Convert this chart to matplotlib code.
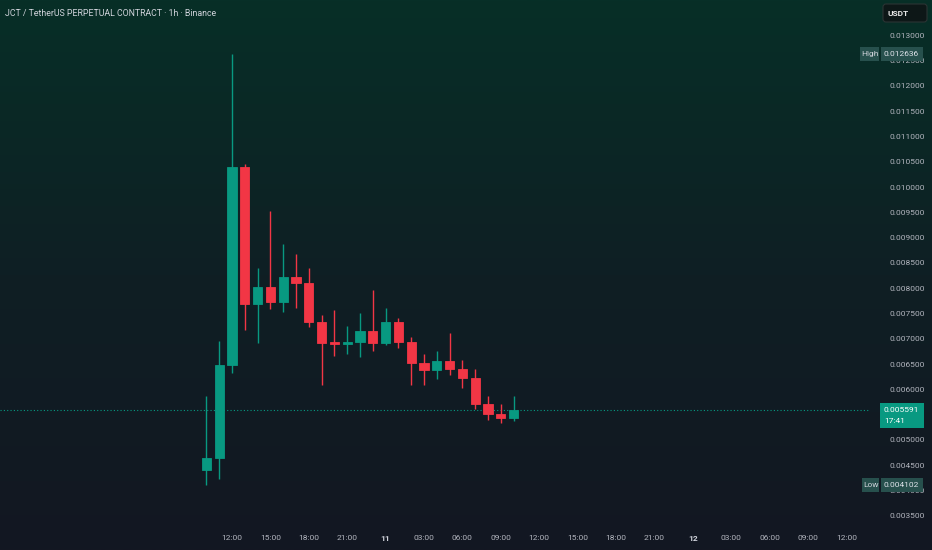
import numpy as np
import matplotlib
matplotlib.use("Agg")
import matplotlib.pyplot as plt
from matplotlib.patches import Rectangle, FancyBboxPatch
from matplotlib.colors import LinearSegmentedColormap

# ---------------- data ----------------
title = "JCT / TetherUS PERPETUAL CONTRACT · 1h · Binance"
hours = list(range(10, 35))  # hours since day-10 00:00 (10:00 .. next day 10:00)
opens = [0.004413, 0.004644, 0.006482, 0.010395, 0.007688, 0.008018, 0.007733, 0.008221,
         0.008109, 0.007338, 0.006917, 0.006907, 0.006937, 0.007160, 0.006911, 0.007332,
         0.006931, 0.006528, 0.006389, 0.006561, 0.006403, 0.006231, 0.005717, 0.005508,
         0.005429]
highs = [0.005870, 0.006957, 0.012636, 0.010455, 0.008399, 0.009520, 0.008874, 0.008670,
         0.008409, 0.007470, 0.007569, 0.007253, 0.007510, 0.007964, 0.007609, 0.007411,
         0.007042, 0.006700, 0.006765, 0.007115, 0.006581, 0.006403, 0.005870, 0.005711,
         0.005870]
lows = [0.004102, 0.004235, 0.006318, 0.007174, 0.006923, 0.007595, 0.007536, 0.007615,
        0.007239, 0.006093, 0.006666, 0.006706, 0.006646, 0.006759, 0.006877, 0.006824,
        0.006093, 0.006093, 0.006211, 0.006290, 0.006034, 0.005613, 0.005401, 0.005330,
        0.005370]
closes = [0.004644, 0.006482, 0.010395, 0.007688, 0.008018, 0.007733, 0.008221, 0.008109,
          0.007338, 0.006917, 0.006907, 0.006937, 0.007160, 0.006911, 0.007332, 0.006931,
          0.006528, 0.006389, 0.006561, 0.006403, 0.006231, 0.005717, 0.005508, 0.005429,
          0.005591]
x_tick_pos = [12, 15, 18, 21, 24, 27, 30, 33, 36, 39, 42, 45, 48, 51, 54, 57, 60]
x_tick_labels = ["12:00", "15:00", "18:00", "21:00", "11", "03:00", "06:00", "09:00",
                 "12:00", "15:00", "18:00", "21:00", "12", "03:00", "06:00", "09:00", "12:00"]
y_ticks = [0.0035, 0.0040, 0.0045, 0.0050, 0.0055, 0.0060, 0.0065, 0.0070, 0.0075, 0.0080,
           0.0085, 0.0090, 0.0095, 0.0100, 0.0105, 0.0110, 0.0115, 0.0120, 0.0125, 0.0130]
last_price = 0.005591
high_price = 0.012636
low_price = 0.004102
countdown = "17:41"
currency = "USDT"

# ---------------- style ----------------
UP = "#089981"
DOWN = "#f23645"
TXT = "#b2b5be"
FONT = "Roboto"
plt.rcParams["font.family"] = [FONT, "DejaVu Sans"]

W, H = 932, 550
fig = plt.figure(figsize=(W / 100, H / 100), dpi=100)

# background gradient
bg = fig.add_axes([0, 0, 1, 1])
bg.set_axis_off()
cmap = LinearSegmentedColormap.from_list("bg", ["#072f27", "#0f1f24", "#131722"])
grad = np.linspace(0, 1, 256).reshape(-1, 1)
bg.imshow(grad, aspect="auto", cmap=cmap, extent=[0, 1, 0, 1], origin="upper")

# main price axes
plot_right = 870
plot_bottom = 527
ax = fig.add_axes([0, (H - plot_bottom) / H, plot_right / W, plot_bottom / H])
ax.set_facecolor("none")
for s in ax.spines.values():
    s.set_visible(False)

px_per_hour = 12.8
x0_pix = 232
ax.set_xlim(12 - x0_pix / px_per_hour, 12 + (plot_right - x0_pix) / px_per_hour)
px_per_unit = 50600.0
ax.set_ylim(0.005 - (plot_bottom - 440) / px_per_unit, 0.005 + 440 / px_per_unit)

body_w = 0.72
for h, o, hi, lo, c in zip(hours, opens, highs, lows, closes):
    col = UP if c >= o else DOWN
    ax.vlines(h, lo, hi, color=col, linewidth=1.0, zorder=2)
    bottom = min(o, c)
    height = max(abs(c - o), 0.00002)
    ax.add_patch(Rectangle((h - body_w / 2, bottom), body_w, height,
                           facecolor=col, edgecolor=col, linewidth=0.6, zorder=3))

ax.axhline(last_price, color=UP, linewidth=0.8, linestyle=(0, (1, 2)), zorder=1)

ax.yaxis.tick_right()
ax.set_yticks(y_ticks)
ax.set_yticklabels([f"{v:.6f}" for v in y_ticks])
ax.tick_params(axis="y", length=0, pad=14, labelsize=6, labelcolor=TXT)
ax.set_xticks(x_tick_pos)
ax.set_xticklabels(x_tick_labels)
ax.tick_params(axis="x", length=0, pad=6, labelsize=6, labelcolor=TXT)
for lab in ax.get_xticklabels():
    if lab.get_text() in ("11", "12"):
        lab.set_fontweight("bold")
        lab.set_color("#d1d4dc")

# overlay in pixel coordinates
ov = fig.add_axes([0, 0, 1, 1])
ov.set_facecolor("none")
ov.set_axis_off()
ov.set_xlim(0, W)
ov.set_ylim(H, 0)


def ypix(p):
    return 440 - (p - 0.005) * px_per_unit


ov.text(5, 13, title, color="#d1d4dc", fontsize=6.3, va="center", ha="left")

# currency box
ov.add_patch(FancyBboxPatch((883, 4), 44, 18, boxstyle="round,pad=0,rounding_size=3",
                            facecolor="#0d1717", edgecolor="#2b3434", linewidth=0.8))
ov.text(888, 13.5, currency, color="#e8e8e8", fontsize=6, fontweight="bold", va="center")

# high / low labels
LBL = "#27504d"
for p, name in ((high_price, "High"), (low_price, "Low")):
    yp = ypix(p)
    wname = 19 if name == "High" else 17
    ov.add_patch(Rectangle((879 - wname, yp - 7), wname, 14, facecolor=LBL, edgecolor="none"))
    ov.text(879 - wname / 2, yp, name, color="#d1d4dc", fontsize=6, ha="center", va="center")
    ov.add_patch(Rectangle((881, yp - 7), 42, 14, facecolor=LBL, edgecolor="none"))
    ov.text(884, yp, f"{p:.6f}", color="#e0e3eb", fontsize=6, ha="left", va="center")

# last price label
yl = ypix(last_price)
ov.add_patch(Rectangle((880, yl - 7), 44, 25, facecolor=UP, edgecolor="none"))
ov.text(884, yl, f"{last_price:.6f}", color="#ffffff", fontsize=6, ha="left", va="center")
ov.text(884, yl + 11, countdown, color="#ffffff", fontsize=6, ha="left", va="center")

fig.savefig("out.png", dpi=100)
